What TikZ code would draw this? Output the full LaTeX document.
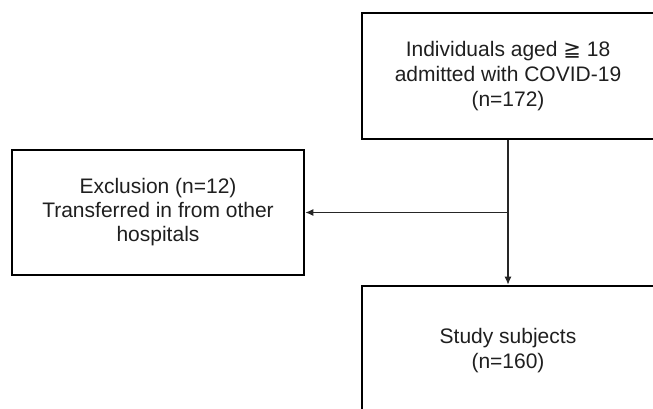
\documentclass[tikz,border=0pt]{standalone}
\usepackage{fontspec}
\setmainfont{Liberation Sans}
\newfontfamily\symfont{DejaVu Sans}
\usetikzlibrary{arrows.meta}
\begin{document}
\begin{tikzpicture}[x=1pt,y=-1pt,
  flowbox/.style={draw, line width=2.6pt, minimum width=292pt, minimum height=126pt,
    align=center, font=\fontsize{21}{25}\selectfont, inner sep=0pt, text=black!88},
  conn/.style={line width=1.3pt, draw=black!85},
  tip/.style={-{Latex[length=8pt,width=7pt]}}]
\useasboundingbox (0,0) rectangle (653,408);
\clip (0,0) rectangle (653,408);
\node[flowbox] (top) at (508,76) {Individuals aged {\symfont ≧} 18\\admitted with COVID-19\\(n=172)};
\node[flowbox, minimum height=125pt, font=\fontsize{21}{24}\selectfont] (excl) at (158,212.5) {Exclusion (n=12)\\Transferred in from other\\hospitals};
\node[flowbox, minimum height=130pt] (study) at (508,351) {Study subjects\\(n=160)};
\coordinate (branch) at (top.south |- excl.east);
\draw[conn, tip] (top.south) -- (study.north);
\draw[conn, tip] (branch) -- (excl.east);
\end{tikzpicture}
\end{document}
